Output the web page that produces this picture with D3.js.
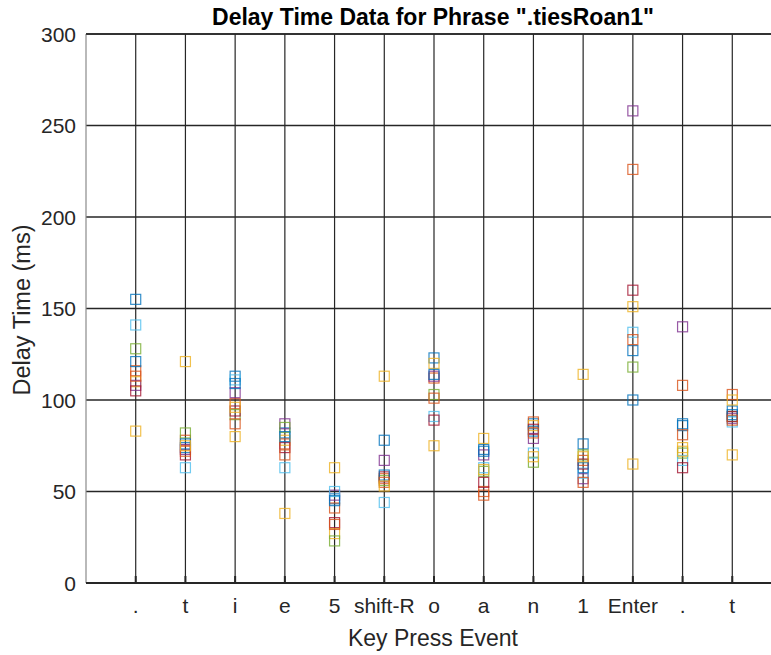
<!DOCTYPE html>
<html>
<head>
<meta charset="utf-8">
<script src="https://cdn.jsdelivr.net/npm/d3@7"></script>
<style>
  html, body { margin: 0; padding: 0; background: #fff; }
  svg { display: block; }
</style>
</head>
<body>
<div id="chart"></div>
<script>
// ---------- data ----------
const categories = [".", "t", "i", "e", "5", "shift-R", "o", "a", "n", "1", "Enter", ".", "t"];
const yTicks = [0, 50, 100, 150, 200, 250, 300];

const trial1  = [155, 74, 113, 82, 46, 78, 123, 73, 87, 76, 127, 87, 94];
const trial2  = [116, 78, 98, 76, 41, 57, 112, 50, 88, 67, 226, 108, 103];
const trial3  = [110, 121, 80, 78, 27, 113, 120, 79, 86, 114, 151, 74, 100];
const trial4  = [108, 73, 104, 87, 48, 67, 113, 70, 79, 57, 258, 140, 90];
const trial5  = [128, 82, 92, 85, 23, 56, 103, 61, 66, 70, 118, 71, 91];
const trial6  = [141, 63, 111, 63, 50, 44, 91, 63, 71, 60, 137, 67, 88];
const trial7  = [105, 70, 94, 74, 33, 58, 89, 55, 84, 65, 160, 63, 91];
const trial8  = [121, 76, 109, 80, 45, 59, 114, 72, 83, 63, 100, 86, 92];
const trial9  = [113, 72, 87, 70, 32, 55, 101, 48, 82, 55, 133, 81, 89];
const trial10 = [83, 75, 96, 38, 63, 53, 75, 62, 69, 69, 65, 72, 70];

const colorOrder = ["#0072BD", "#D95319", "#EDB120", "#7E2F8E", "#77AC30", "#4DBEEE", "#A2142F"];

const allTrials = [trial1, trial2, trial3, trial4, trial5, trial6, trial7, trial8, trial9, trial10];

// ---------- layout ----------
const W = 771, H = 655;
const pLeft = 86, pTop = 34, pBottom = 583, pRight = 782;
const font = "'Liberation Sans', Arial, Helvetica, sans-serif";
const axisColor = "#262626";

const svg = d3.select("#chart").append("svg")
  .attr("width", W).attr("height", H);

const x = d3.scaleLinear().domain([0, categories.length + 1]).range([pLeft, pRight]);
const y = d3.scaleLinear().domain([0, 300]).range([pBottom, pTop]);
const catPos = categories.map((c, i) => i + 1);

// vertical grid lines
svg.append("g").selectAll("line").data(catPos).join("line")
  .attr("x1", d => x(d)).attr("x2", d => x(d))
  .attr("y1", pTop).attr("y2", pBottom)
  .attr("stroke", axisColor).attr("stroke-width", 1.2);

// horizontal grid lines
svg.append("g").selectAll("line").data(yTicks).join("line")
  .attr("x1", pLeft).attr("x2", pRight)
  .attr("y1", d => y(d)).attr("y2", d => y(d))
  .attr("stroke", axisColor).attr("stroke-width", 1.7);

// markers
const S = 10;
allTrials.forEach((vals, si) => {
  svg.append("g").selectAll("rect").data(vals).join("rect")
    .attr("x", (d, i) => x(i + 1) - S / 2)
    .attr("y", d => y(d) - S / 2)
    .attr("width", S).attr("height", S)
    .attr("fill", "none")
    .attr("stroke", colorOrder[si % colorOrder.length])
    .attr("stroke-width", 1.2)
    .attr("stroke-opacity", 0.8);
});

// axes lines
svg.append("line").attr("x1", pLeft).attr("x2", pLeft).attr("y1", pTop).attr("y2", pBottom)
  .attr("stroke", "#8a8a8a").attr("stroke-width", 1.2);
svg.append("line").attr("x1", pLeft).attr("x2", pRight).attr("y1", pTop).attr("y2", pTop)
  .attr("stroke", axisColor).attr("stroke-width", 1.7);
svg.append("line").attr("x1", pLeft).attr("x2", pRight).attr("y1", pBottom).attr("y2", pBottom)
  .attr("stroke", axisColor).attr("stroke-width", 2);

// bottom ticks (inward)
svg.append("g").selectAll("line").data(catPos).join("line")
  .attr("x1", d => x(d)).attr("x2", d => x(d))
  .attr("y1", pBottom).attr("y2", pBottom - 7)
  .attr("stroke", axisColor).attr("stroke-width", 2);

// x tick labels
svg.append("g").selectAll("text").data(categories).join("text")
  .attr("x", (d, i) => x(i + 1)).attr("y", 613)
  .attr("text-anchor", "middle")
  .attr("font-family", font).attr("font-size", 21)
  .attr("fill", axisColor)
  .text(d => d);

// y tick labels
svg.append("g").selectAll("text").data(yTicks).join("text")
  .attr("x", 76).attr("y", d => y(d) + 7.5)
  .attr("text-anchor", "end")
  .attr("font-family", font).attr("font-size", 21)
  .attr("fill", axisColor)
  .text(d => d);

// axis labels
svg.append("text")
  .attr("x", 433).attr("y", 646)
  .attr("text-anchor", "middle")
  .attr("font-family", font).attr("font-size", 23)
  .attr("fill", axisColor)
  .text("Key Press Event");

svg.append("text")
  .attr("transform", `translate(30, 310) rotate(-90)`)
  .attr("text-anchor", "middle")
  .attr("font-family", font).attr("font-size", 23.5)
  .attr("fill", axisColor)
  .text("Delay Time (ms)");

// title
svg.append("text")
  .attr("x", 433).attr("y", 25)
  .attr("text-anchor", "middle")
  .attr("font-family", font).attr("font-size", 23).attr("font-weight", "bold")
  .attr("fill", "#000")
  .text('Delay Time Data for Phrase ".tiesRoan1"');
</script>
</body>
</html>
